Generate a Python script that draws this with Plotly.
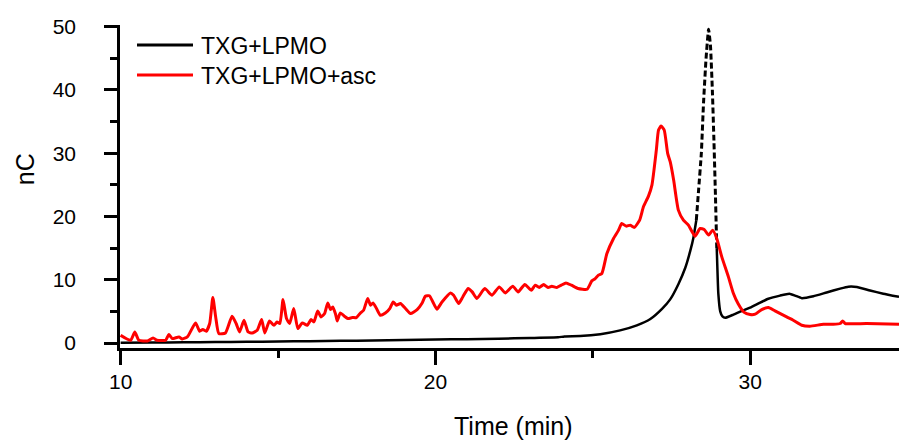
import plotly.graph_objects as go

# ---- data ----
red_t = [10.0, 10.32, 10.45, 10.58, 10.85, 11.03, 11.16, 11.43, 11.53, 11.64, 11.85, 11.96, 12.12,
         12.38, 12.51, 12.61, 12.72, 12.83, 12.93, 13.02, 13.12, 13.33, 13.54, 13.67, 13.78, 13.92,
         14.05, 14.18, 14.34, 14.48, 14.58, 14.73, 14.87, 14.97, 15.06, 15.16, 15.27, 15.37, 15.50,
         15.63, 15.77, 15.93, 16.05, 16.14, 16.26, 16.37, 16.48, 16.58, 16.67, 16.74, 16.83, 16.88,
         16.98, 17.11, 17.22, 17.36, 17.49, 17.62, 17.72, 17.85, 17.94, 18.02, 18.13, 18.25, 18.41,
         18.55, 18.66, 18.76, 18.89, 19.05, 19.21, 19.42, 19.58, 19.68, 19.81, 19.92, 20.05, 20.21,
         20.48, 20.58, 20.74, 20.87, 21.04, 21.17, 21.32, 21.57, 21.80, 22.03, 22.22, 22.46, 22.63,
         22.84, 23.05, 23.17, 23.30, 23.44, 23.58, 23.70, 23.86, 24.0, 24.15, 24.32, 24.53, 24.82,
         24.97, 25.08, 25.18, 25.29, 25.45, 25.66, 25.82, 25.92, 26.06, 26.19, 26.32, 26.49, 26.61,
         26.77, 26.88, 27.02, 27.09, 27.17, 27.27, 27.38, 27.46, 27.57, 27.72, 27.88, 28.04, 28.25,
         28.41, 28.54, 28.68, 28.81, 28.94, 29.10, 29.31, 29.47, 29.62, 29.80, 30.0, 30.16, 30.37,
         30.58, 30.79, 31.16, 31.37, 31.64, 31.90, 32.33, 32.64, 32.86, 32.94, 33.02, 33.70, 34.73]
red_v = [1.23, 0.44, 1.76, 0.44, 0.33, 0.81, 0.44, 0.44, 1.34, 0.71, 0.97, 0.65, 0.97,
         3.18, 1.87, 2.14, 1.87, 3.09, 7.2, 4.13, 1.5, 1.6, 4.24, 3.09, 1.76, 3.6,
         1.76, 1.6, 2.03, 3.72, 1.6, 3.5, 2.8, 3.34, 3.09, 6.88, 3.88, 3.09, 5.46,
         2.29, 3.18, 2.82, 3.72, 3.34, 5.08, 4.13, 4.67, 6.34, 5.3, 5.71, 4.56, 3.5,
         4.76, 4.24, 3.88, 4.03, 4.03, 4.76, 5.19, 7.04, 5.98, 6.34, 5.46, 4.4, 4.76,
         5.46, 6.5, 5.98, 6.25, 5.46, 4.67, 5.3, 6.34, 7.4, 7.48, 6.5, 5.35, 6.5,
         7.93, 7.56, 6.25, 7.29, 8.62, 8.09, 7.04, 8.62, 7.56, 8.88, 7.93, 8.99, 8.09,
         9.26, 8.35, 9.15, 8.78, 9.26, 8.78, 8.99, 8.78, 9.15, 9.51, 9.15, 8.62, 8.51,
         9.83, 10.2, 10.73, 11.0, 14.16, 16.53, 17.85, 18.9, 18.48, 18.64, 18.28, 19.43, 21.53,
         23.23, 24.97, 30.5, 33.67, 34.3, 33.67, 29.98, 28.66, 25.76, 21.01, 19.43, 18.64, 16.9,
         18.12, 17.96, 17.06, 17.85, 16.53, 13.62, 10.46, 7.83, 6.2, 4.9, 4.51, 4.56, 5.3,
         5.62, 5.08, 4.13, 3.61, 2.82, 2.66, 2.97, 2.97, 3.09, 3.5, 3.09, 3.09, 2.97]

black_t = [10.0, 11.0, 12.0, 13.0, 14.0, 15.0, 16.0, 17.0, 18.0, 19.0, 20.0, 21.0, 22.0, 23.0,
           23.9, 24.1, 24.6, 25.24, 25.87, 26.40, 26.83, 27.20, 27.46, 27.72, 27.94, 28.10,
           28.20, 28.29]
black_v = [0.05, 0.08, 0.12, 0.15, 0.2, 0.25, 0.3, 0.35, 0.42, 0.5, 0.55, 0.62, 0.7, 0.8,
           0.9, 1.05, 1.1, 1.4, 2.0, 2.8, 3.8, 5.4, 6.9, 9.3, 11.9, 14.6, 16.7, 19.4]
black_peak_t = [28.29, 28.36, 28.45, 28.52, 28.60, 28.68, 28.74, 28.80, 28.85, 28.90, 28.94]
black_peak_v = [19.4, 24.0, 30.0, 38.0, 45.0, 49.6, 47.0, 40.0, 32.0, 23.0, 15.0]
black_tail_t = [28.94, 28.99, 29.05, 29.12, 29.21, 29.47, 29.7, 30.0, 30.32, 30.58, 30.95,
                31.25, 31.43, 31.64, 32.01, 32.43, 32.86, 33.12, 33.39, 33.81, 34.23, 34.73]
black_tail_v = [15.0, 7.8, 5.0, 4.2, 4.0, 4.5, 5.0, 5.6, 6.4, 7.0, 7.5,
                7.8, 7.5, 7.1, 7.4, 8.0, 8.6, 8.9, 8.85, 8.3, 7.8, 7.3]

x_tickvals = [10, 20, 30]
y_tickvals = [0, 10, 20, 30, 40, 50]
series_names = ["TXG+LPMO", "TXG+LPMO+asc"]

FONT = "Arial, Liberation Sans, sans-serif"

fig = go.Figure()
fig.add_trace(go.Scatter(x=black_t, y=black_v, mode="lines", name=series_names[0],
                         line=dict(color="black", width=2.5, shape="spline", smoothing=0.4),
                         showlegend=False))
fig.add_trace(go.Scatter(x=black_peak_t, y=black_peak_v, mode="lines", name=series_names[0],
                         line=dict(color="black", width=3, dash="6px,3px", shape="spline", smoothing=0.4),
                         showlegend=False))
fig.add_trace(go.Scatter(x=black_tail_t, y=black_tail_v, mode="lines", name=series_names[0],
                         line=dict(color="black", width=2.5, shape="spline", smoothing=0.4),
                         showlegend=False))
fig.add_trace(go.Scatter(x=red_t, y=red_v, mode="lines", name=series_names[1],
                         line=dict(color="#ff0000", width=3, shape="spline", smoothing=0.5),
                         showlegend=False))

# manual legend (line samples + text)
W, L, T, PH = 899, 120, 25, 322.7
def px(x):
    return (x - L) / (W - L)
def py(y):
    return (T + PH - y) / PH

for name, color, yy in [(series_names[0], "black", 45), (series_names[1], "#ff0000", 75)]:
    fig.add_shape(type="line", xref="paper", yref="paper", x0=px(137), x1=px(193),
                  y0=py(yy), y1=py(yy), line=dict(color=color, width=3))
    fig.add_annotation(xref="paper", yref="paper", x=px(199), y=py(yy + 1), text=name,
                       showarrow=False, xanchor="left", yanchor="middle",
                       font=dict(family=FONT, size=23, color="black"))

fig.add_annotation(xref="paper", yref="paper", x=px(25), y=py(169), text="nC", textangle=-90,
                   showarrow=False, xanchor="center", yanchor="middle",
                   font=dict(family=FONT, size=25, color="black"))
fig.add_annotation(xref="paper", yref="paper", x=px(513), y=py(426), text="Time (min)",
                   showarrow=False, xanchor="center", yanchor="middle",
                   font=dict(family=FONT, size=25, color="black"))

fig.update_layout(
    width=899, height=440,
    margin=dict(l=120, r=0, t=25, b=92.3),
    paper_bgcolor="white", plot_bgcolor="white",
    showlegend=False,
    font=dict(family=FONT, color="black"),
)
fig.update_xaxes(range=[9.98, 34.73], showgrid=False, zeroline=False,
                 showline=True, linecolor="black", linewidth=2.5,
                 ticks="outside", ticklen=14, tickwidth=2.5, tickcolor="black",
                 tickvals=x_tickvals, ticktext=[str(v) for v in x_tickvals],
                 tickfont=dict(family=FONT, size=21, color="black"), ticklabelstandoff=-1,
                 minor=dict(dtick=5, tick0=0, ticks="outside", ticklen=7, tickwidth=2.5, tickcolor="black"))
fig.update_yaxes(range=[-0.78, 50.27], showgrid=False, zeroline=False,
                 showline=True, linecolor="black", linewidth=2.5,
                 ticks="outside", ticklen=13, tickwidth=2.5, tickcolor="black",
                 tickvals=y_tickvals, ticktext=[str(v) for v in y_tickvals],
                 tickfont=dict(family=FONT, size=21, color="black"), ticklabelstandoff=24,
                 minor=dict(dtick=5, tick0=0, ticks="outside", ticklen=7, tickwidth=2.5, tickcolor="black"))

fig.write_html("out.html")
